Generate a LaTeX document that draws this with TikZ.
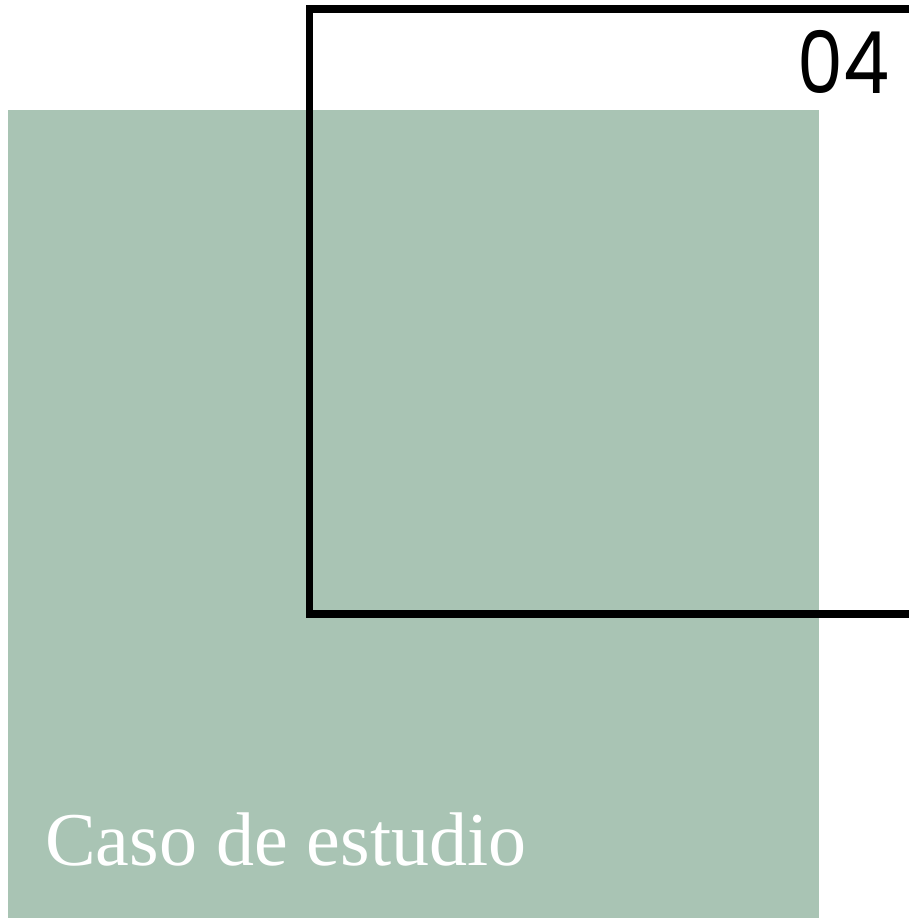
\documentclass[tikz,border=0pt]{standalone}
\usepackage{fontspec}
\setmainfont{Liberation Serif}
\newfontfamily\numfont{Poppins}
\definecolor{salvia}{RGB}{169,196,180}
\begin{document}
\begin{tikzpicture}[x=1pt,y=-1pt]
            \useasboundingbox (0, 0) rectangle (909, 919);
            \fill [salvia] (8, 110) rectangle (819, 918);
            \draw [line width=7.5pt, line join=miter] (912, 9) -- (309.5, 9) -- (309.5, 614) -- (912, 614);
            \node (num) [anchor=base east, inner sep=0pt, xscale=0.85, font=\numfont\fontsize{86}{86}\selectfont] at (890, 93) {04};
            \node (caso) [anchor=base west, inner sep=0pt, text=white, font=\fontsize{76}{76}\selectfont] at (45, 865) {Caso de estudio};
        \end{tikzpicture}
\end{document}
